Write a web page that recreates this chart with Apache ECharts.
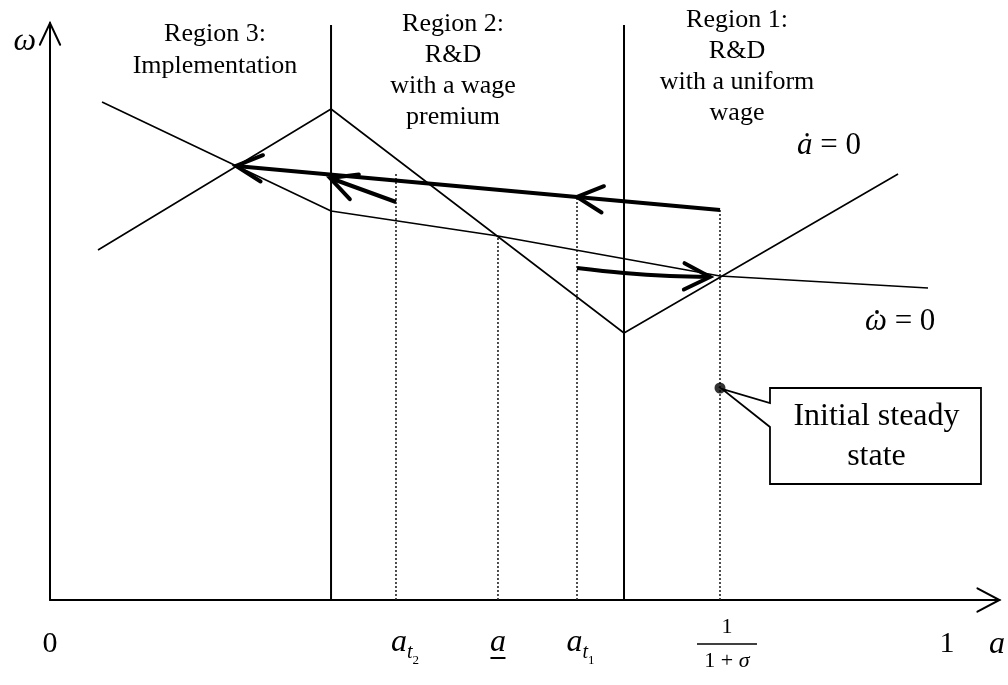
<!DOCTYPE html>
<html><head><meta charset="utf-8">
<script src="https://cdn.jsdelivr.net/npm/echarts@6.0.0/dist/echarts.min.js"></script>
<style>html,body{margin:0;padding:0;background:#fff}#c{width:1008px;height:685px}</style>
</head><body><div id="c"></div>
<script>
// ---- data (a on the x axis, omega on the y axis) ----
const regionBounds = [0.3133, 0.6399];
const regionTop = 1.15;
const aDotZero = [[0.0535, 0.700], [0.3133, 0.982], [0.6399, 0.534], [0.9454, 0.852]];
const omegaDotZero = [[0.0580, 0.996], [0.3133, 0.778], [0.4994, 0.728], [0.7469, 0.648], [0.9788, 0.624]];
const aT2 = 0.3857, aUnder = 0.4994, aT1 = 0.5875, aSS = 0.7469;
const guideX = [aT2, aUnder, aT1, aSS];
const guideTop = [0.854, 0.728, 0.804, 0.780];
const steadyDot = [aSS, 0.424];
const bigArrow = [[0.7469, 0.780], [0.2074, 0.868]];
const shortArrow = [[0.3857, 0.796], [0.3122, 0.844]];
const curvedArrow = [[0.5875, 0.664], [0.6399, 0.654], [0.6912, 0.648], [0.7358, 0.646]];
const xTickValues = [0, aT2, aUnder, aT1, aSS, 1];
const xTickLabels = ['{n|0}', '{ia|a}{s|t}{s2|2}', '{iu|a}\n{u| }', '{ib|a}{s|t}{s2|1}',
  '{sp| }{fn|1}\n{sp| }{fb| }\n{sp| }{fd|1 + }{fdi|σ}', '{n|1}'];
const regionLabels = ['Region 3:\nImplementation', 'Region 2:\nR&D\nwith a wage\npremium', 'Region 1:\nR&D\nwith a uniform\nwage'];
const calloutText = 'Initial steady\nstate';
const xMax = 1.0585, yMax = 1.154;

// ---- rendering ----
const SERIF = '"Liberation Serif","Times New Roman",serif';
const chart = echarts.init(document.getElementById('c'), null, {renderer: 'canvas'});

function head(tip, from, len, angDeg, w) {
  let dx = from[0] - tip[0], dy = from[1] - tip[1];
  const L = Math.hypot(dx, dy) || 1; dx /= L; dy /= L;
  const a = angDeg * Math.PI / 180, c = Math.cos(a), s = Math.sin(a);
  const b1 = [tip[0] + len * (dx * c - dy * s), tip[1] + len * (dx * s + dy * c)];
  const b2 = [tip[0] + len * (dx * c + dy * s), tip[1] + len * (-dx * s + dy * c)];
  return {type: 'polyline', shape: {points: [b1, tip, b2]},
    style: {stroke: '#000', lineWidth: w, fill: null, lineCap: 'round', lineJoin: 'miter'}};
}
function interpAt(path, xv) {
  for (let k = 0; k < path.length - 1; k++) {
    const p = path[k], q = path[k + 1];
    const lo = Math.min(p[0], q[0]), hi = Math.max(p[0], q[0]);
    if (xv >= lo && xv <= hi) {
      const t = (xv - p[0]) / (q[0] - p[0]);
      return [xv, p[1] + t * (q[1] - p[1])];
    }
  }
  return path[0];
}
const arrowSpecs = [
  {path: bigArrow, smooth: 0, mids: [aT1]},
  {path: shortArrow, smooth: 0, mids: []},
  {path: curvedArrow, smooth: 0.4, mids: []}
];

function renderItem(params, api) {
  const i = params.dataIndex;
  if (i < arrowSpecs.length) {
    const spec = arrowSpecs[i];
    const pts = spec.path.map(p => api.coord(p));
    const children = [{type: 'polyline', shape: {points: pts, smooth: spec.smooth},
      style: {stroke: '#000', lineWidth: 4, fill: null, lineCap: 'butt'}}];
    const n = pts.length;
    children.push(head(pts[n - 1], pts[n - 2], 29, 27, 4));
    spec.mids.forEach(xv => {
      const m = api.coord(interpAt(spec.path, xv));
      children.push(head(m, pts[0], 29, 27, 4));
    });
    return {type: 'group', children};
  }
  if (i === 3) { // axis arrowheads
    const xt = api.coord([xMax, 0]), yt = api.coord([0, yMax]);
    return {type: 'group', children: [
      head(xt, [xt[0] - 10, xt[1]], 25, 28, 2),
      head(yt, [yt[0], yt[1] + 10], 24, 25, 2)
    ]};
  }
  // callout anchored to the steady-state dot
  const d = api.coord(steadyDot);
  const L = d[0] + 50, T = d[1], R = d[0] + 261, B = d[1] + 96;
  return {type: 'group', children: [
    {type: 'polygon', shape: {points: [[L, T + 15], [L, T], [R, T], [R, B], [L, B], [L, T + 39], [d[0] + 2, d[1] + 1]]},
      style: {fill: '#fff', stroke: '#000', lineWidth: 1.8}},
    {type: 'text', style: {text: calloutText, x: (L + R) / 2 + 1, y: T + 49, align: 'center', verticalAlign: 'middle',
      textAlign: 'center', textVerticalAlign: 'middle', fontSize: 32, fontFamily: SERIF, lineHeight: 40, fill: '#000'}}
  ]};
}

const thin = {color: '#000', width: 1.6};
const series = [];
series.push({type: 'line', name: 'a-dot = 0', data: aDotZero, symbol: 'none', lineStyle: thin, silent: true, z: 3});
series.push({type: 'line', name: 'omega-dot = 0', data: omegaDotZero, symbol: 'none', lineStyle: thin, silent: true, z: 3});
regionBounds.forEach(x => series.push({type: 'line', data: [[x, 0], [x, regionTop]], symbol: 'none',
  lineStyle: {color: '#000', width: 2}, silent: true, z: 2}));
guideX.forEach((x, k) => series.push({type: 'line', data: [[x, 0], [x, guideTop[k]]], symbol: 'none',
  lineStyle: {color: '#222', width: 1.6, type: [2, 2]}, silent: true, z: 2}));
series.push({type: 'custom', renderItem, data: [0, 1, 2, 3, 4], clip: false, silent: true, z: 5});
series.push({type: 'scatter', data: [steadyDot], symbol: 'circle', symbolSize: 11,
  itemStyle: {color: '#000'}, silent: true, z: 6});

function txt(text, x, y, size, lh) {
  return {type: 'text', silent: true, style: {text, x, y, align: 'center', verticalAlign: 'middle',
    textAlign: 'center', textVerticalAlign: 'middle', fontSize: size, fontFamily: SERIF, lineHeight: lh, fill: '#000'}};
}
const graphic = [
  txt(regionLabels[0], 215, 50, 26, 32),
  txt(regionLabels[1], 453, 71, 26, 31),
  txt(regionLabels[2], 737, 67, 26, 31),
  {type: 'text', silent: true, style: {text: '{i|ȧ} = 0', x: 797, y: 146, align: 'left', verticalAlign: 'middle',
    fontSize: 31, fontFamily: SERIF, fill: '#000', rich: {i: {fontSize: 31, fontFamily: SERIF, fontStyle: 'italic'}}}},
  {type: 'text', silent: true, style: {text: '{i|ω} = 0', x: 865, y: 322, align: 'left', verticalAlign: 'middle',
    fontSize: 31, fontFamily: SERIF, fill: '#000', rich: {i: {fontSize: 31, fontFamily: SERIF, fontStyle: 'italic'}}}},
  {type: 'circle', silent: true, shape: {cx: 877, cy: 312, r: 1.9}, style: {fill: '#000'}}
];

const option = {
  animation: false,
  backgroundColor: '#fff',
  grid: {left: 50, right: 8.5, top: 23, bottom: 85, containLabel: false},
  xAxis: {
    type: 'value', min: 0, max: xMax,
    name: 'a', nameLocation: 'end', nameGap: -2.5,
    nameTextStyle: {fontFamily: SERIF, fontStyle: 'italic', fontSize: 32, color: '#000', align: 'center', verticalAlign: 'top', padding: [29, 0, 0, 0]},
    axisLine: {show: true, lineStyle: {color: '#000', width: 2}},
    axisTick: {show: false},
    splitLine: {show: false},
    axisLabel: {
      show: true, customValues: xTickValues, margin: 44, verticalAlign: 'middle', color: '#000',
      fontFamily: SERIF,
      formatter: (v) => { const k = xTickValues.findIndex(t => Math.abs(t - v) < 1e-9); return k >= 0 ? xTickLabels[k] : ''; },
      rich: {
        n: {fontSize: 30, fontFamily: SERIF, color: '#000'},
        ia: {fontSize: 32, fontFamily: SERIF, fontStyle: 'italic', color: '#000', verticalAlign: 'top', padding: [6, 0, 0, 18]},
        ib: {fontSize: 32, fontFamily: SERIF, fontStyle: 'italic', color: '#000', verticalAlign: 'top', padding: [6, 0, 0, 7]},
        s: {fontSize: 20, fontFamily: SERIF, fontStyle: 'italic', color: '#000', verticalAlign: 'top', padding: [22, 0, 0, 0]},
        s2: {fontSize: 13, fontFamily: SERIF, color: '#000', verticalAlign: 'top', padding: [33, 0, 0, 0]},
        iu: {fontSize: 32, fontFamily: SERIF, fontStyle: 'italic', color: '#000', lineHeight: 28},
        u: {width: 15, height: 2, backgroundColor: '#000', fontSize: 2, lineHeight: 2},
        sp: {width: 14, fontSize: 2},
        fn: {fontSize: 22, fontFamily: SERIF, color: '#000', lineHeight: 24},
        fb: {width: 60, height: 1.6, backgroundColor: '#000', fontSize: 2, lineHeight: 10},
        fd: {fontSize: 22, fontFamily: SERIF, color: '#000', lineHeight: 24},
        fdi: {fontSize: 22, fontFamily: SERIF, fontStyle: 'italic', color: '#000', lineHeight: 24}
      }
    }
  },
  yAxis: {
    type: 'value', min: 0, max: yMax,
    name: 'ω', nameLocation: 'end', nameGap: -19,
    nameTextStyle: {fontFamily: SERIF, fontStyle: 'italic', fontSize: 32, color: '#000', align: 'right', verticalAlign: 'middle', padding: [0, 14, 0, 0]},
    axisLine: {show: true, lineStyle: {color: '#000', width: 2}},
    axisTick: {show: false}, axisLabel: {show: false}, splitLine: {show: false}
  },
  series,
  graphic
};
chart.setOption(option);
</script></body></html>
